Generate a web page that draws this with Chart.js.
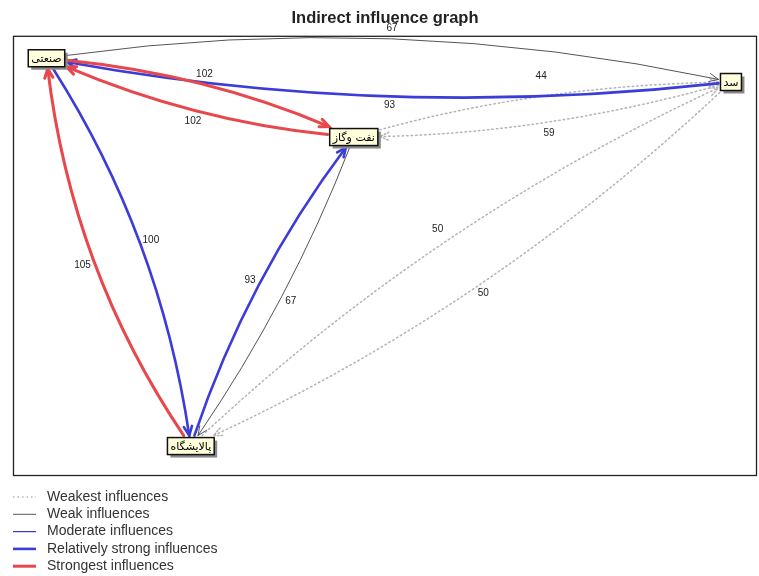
<!DOCTYPE html>
<html><head><meta charset="utf-8">
<script src="https://cdn.jsdelivr.net/npm/chart.js@4.4.0/dist/chart.umd.min.js"></script>
<style>html,body{margin:0;padding:0;background:#fff}canvas{display:block}</style>
</head><body>
<canvas id="c" width="759" height="576"></canvas>
<script>
// ---- data ----
const nodeNames = ['صنعتی', 'نفت وگاز', 'سد', 'پالایشگاه'];
const nodeX = [4.5, 45.8, 96.5, 23.9];
const nodeY = [5.1, 23.0, 10.5, 93.2];
const edgeFrom  = [0, 2, 0, 1, 2, 1, 0, 3, 3, 1, 2, 3];
const edgeTo    = [2, 0, 1, 0, 1, 2, 3, 0, 1, 3, 3, 2];
const edgeValue = [67, 93, 102, 102, 59, 44, 100, 105, 93, 67, 50, 50];
const edgeClass = [1, 3, 4, 4, 0, 0, 3, 4, 3, 1, 0, 0];
const classNames = ['Weakest influences', 'Weak influences', 'Moderate influences', 'Relatively strong influences', 'Strongest influences'];

// ---- layout / style ----
const edgeBend = [-60, -50, -24, -24, -24, -24, -44, -50, -28, -20, -52, -52];
const labelGap = [11, 9, 10, 11, 11, 20, 11, 12, 10, 10, 9, 15];
const classStyle = [
  {color: '#b4b4b4', width: 1.5, dash: [1.5, 3]},
  {color: '#555555', width: 1, dash: []},
  {color: '#3535c8', width: 1.2, dash: []},
  {color: '#3c3cd8', width: 2.6, dash: []},
  {color: '#e8474c', width: 3, dash: []}
];

const graphPlugin = {
  id: 'graph',
  beforeDraw(chart) {
    const c = chart.ctx;
    c.save(); c.fillStyle = '#fff'; c.fillRect(0, 0, chart.width, chart.height); c.restore();
  },
  afterDatasetsDraw(chart) {
    const c = chart.ctx, xs = chart.scales.x, ys = chart.scales.y, a = chart.chartArea;
    c.save();
    // frame
    c.strokeStyle = '#222'; c.lineWidth = 1.3;
    c.strokeRect(a.left + 0.5, a.top + 0.5, a.right - a.left - 1, a.bottom - a.top - 1);
    // node boxes
    c.font = '11px "DejaVu Sans"';
    const nodes = nodeNames.map((n, i) => {
      const w = c.measureText(n).width + 6, h = 17;
      return {x: xs.getPixelForValue(nodeX[i]), y: ys.getPixelForValue(nodeY[i]), w, h};
    });
    const clip = (nd, tx, ty) => {
      const dx = tx - nd.x, dy = ty - nd.y;
      const hw = nd.w / 2 + 2, hh = nd.h / 2 + 2;
      const t = Math.min(dx ? hw / Math.abs(dx) : 1e9, dy ? hh / Math.abs(dy) : 1e9);
      return [nd.x + dx * t, nd.y + dy * t];
    };
    const order = edgeValue.map((v, i) => i).sort((p, q) => edgeClass[p] - edgeClass[q]);
    const labels = [];
    order.forEach(i => {
      const A = nodes[edgeFrom[i]], B = nodes[edgeTo[i]];
      const dx = B.x - A.x, dy = B.y - A.y, L = Math.hypot(dx, dy);
      const nx = -dy / L, ny = dx / L;
      const cx = (A.x + B.x) / 2 + nx * edgeBend[i], cy = (A.y + B.y) / 2 + ny * edgeBend[i];
      const [x0, y0] = clip(A, cx, cy);
      const [x1, y1] = clip(B, cx, cy);
      const st = classStyle[edgeClass[i]];
      c.strokeStyle = st.color; c.lineWidth = st.width; c.setLineDash(st.dash); c.lineCap = 'round';
      c.beginPath(); c.moveTo(x0, y0); c.quadraticCurveTo(cx, cy, x1, y1); c.stroke();
      c.setLineDash(st.dash.length ? [1.5, 2] : []);
      const ang = Math.atan2(y1 - cy, x1 - cx), al = 10, sp = 0.42;
      c.beginPath();
      c.moveTo(x1 - al * Math.cos(ang - sp), y1 - al * Math.sin(ang - sp));
      c.lineTo(x1, y1);
      c.lineTo(x1 - al * Math.cos(ang + sp), y1 - al * Math.sin(ang + sp));
      c.stroke();
      c.setLineDash([]);
      const mx = 0.25 * x0 + 0.5 * cx + 0.25 * x1, my = 0.25 * y0 + 0.5 * cy + 0.25 * y1;
      const s = Math.sign(edgeBend[i]) || 1;
      labels.push([String(edgeValue[i]), mx + nx * s * labelGap[i], my + ny * s * labelGap[i]]);
    });
    c.fillStyle = '#222'; c.font = '10px "Liberation Sans"'; c.textAlign = 'center'; c.textBaseline = 'middle';
    labels.forEach(([t, x, y]) => c.fillText(t, x, y));
    nodes.forEach((nd, i) => {
      const l = nd.x - nd.w / 2, t = nd.y - nd.h / 2;
      c.fillStyle = '#8a8a8a'; c.fillRect(l + 3, t + 3, nd.w, nd.h);
      c.fillStyle = '#ffffdc'; c.fillRect(l, t, nd.w, nd.h);
      c.strokeStyle = '#111'; c.lineWidth = 1.5; c.strokeRect(l, t, nd.w, nd.h);
      c.fillStyle = '#000'; c.font = '11px "DejaVu Sans"'; c.textAlign = 'center'; c.textBaseline = 'middle';
      c.fillText(nodeNames[i], nd.x, nd.y + 1);
    });
    // legend
    c.font = '14px "Liberation Sans"'; c.textAlign = 'left'; c.textBaseline = 'middle';
    classNames.forEach((name, k) => {
      const y = 497 + k * 17.3, st = classStyle[k];
      c.strokeStyle = st.color; c.lineWidth = st.width; c.setLineDash(st.dash); c.lineCap = 'butt';
      c.beginPath(); c.moveTo(13, y); c.lineTo(36, y); c.stroke();
      c.setLineDash([]);
      c.fillStyle = '#333'; c.fillText(name, 47, y);
    });
    c.restore();
  }
};

new Chart(document.getElementById('c'), {
  type: 'scatter',
  data: {datasets: [{data: nodeX.map((x, i) => ({x, y: nodeY[i]})), pointRadius: 0}]},
  options: {
    responsive: false, animation: false,
    layout: {padding: {left: 13, right: 2, top: 0, bottom: 100}},
    scales: {x: {display: false, min: 0, max: 100}, y: {display: false, min: 0, max: 100, reverse: true}},
    plugins: {
      legend: {display: false}, tooltip: {enabled: false},
      title: {display: true, text: 'Indirect influence graph', color: '#222',
        font: {size: 16.5, weight: 'bold', family: 'Liberation Sans'}, padding: {top: 9, bottom: 7}}
    }
  },
  plugins: [graphPlugin]
});
</script>
</body></html>
